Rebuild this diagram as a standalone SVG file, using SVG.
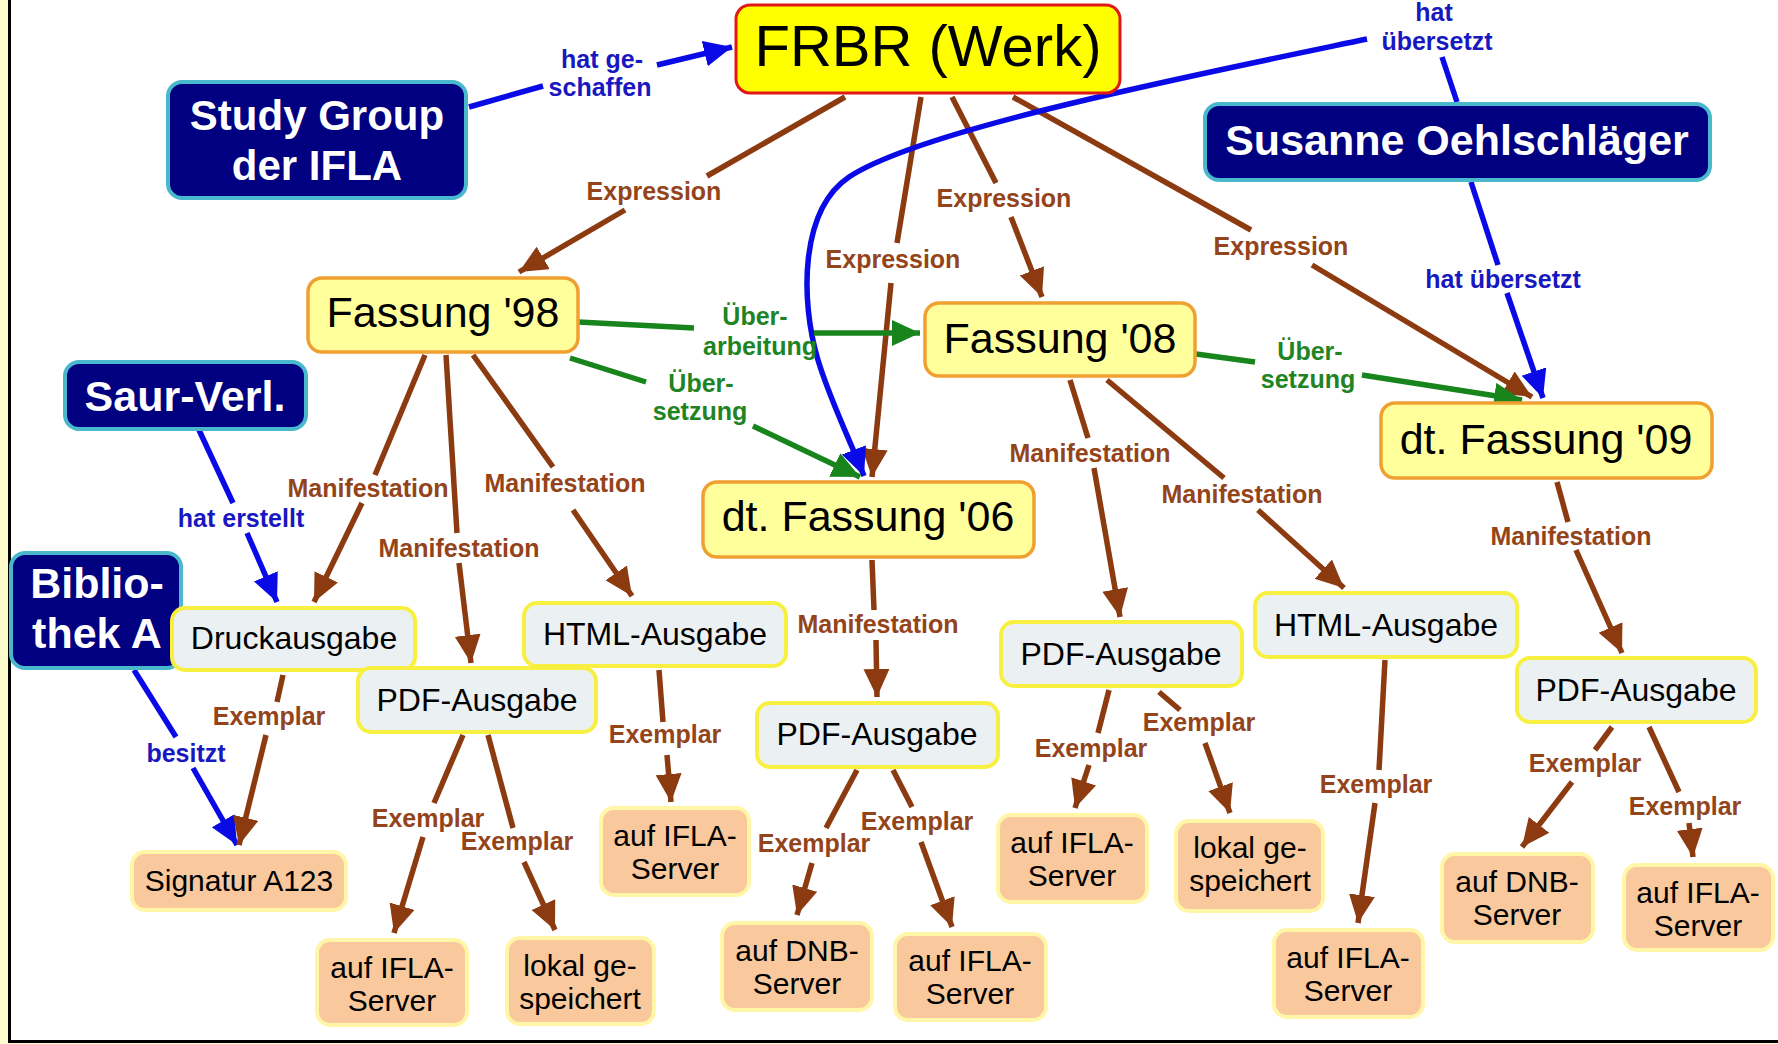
<svg xmlns="http://www.w3.org/2000/svg" width="1778" height="1044" viewBox="0 0 1778 1044">
<style>
.bg{fill:#ffffff}
.who rect{fill:#000080;stroke:#4ab8cc;stroke-width:4}
.who text{fill:#ffffff;font-family:"Liberation Sans",Arial,sans-serif;font-weight:bold;font-size:43px;text-anchor:middle}
.werk rect{fill:#ffff00;stroke:#e01818;stroke-width:3}
.werk text{fill:#000;font-family:"Liberation Sans",Arial,sans-serif;font-size:58px;text-anchor:middle}
.expr rect{fill:#ffff9c;stroke:#f0a030;stroke-width:3.5}
.expr text{fill:#000;font-family:"Liberation Sans",Arial,sans-serif;font-size:43px;text-anchor:middle}
.man rect{fill:#ebf0f3;stroke:#f8f040;stroke-width:4}
.man text{fill:#000;font-family:"Liberation Sans",Arial,sans-serif;font-size:32px;text-anchor:middle}
.item rect{fill:#f9c89c;stroke:#fff6a8;stroke-width:4}
.item text{fill:#000;font-family:"Liberation Sans",Arial,sans-serif;font-size:30px;text-anchor:middle}
.c line,.c path{fill:none;stroke-width:5.5}
.br{stroke:#8c3a10}
.bl{stroke:#0a0ae6}
.gr{stroke:#18841c}
.lab text{font-family:"Liberation Sans",Arial,sans-serif;font-weight:bold;font-size:25px;text-anchor:middle}
.lb{fill:#94441a}
.lbl{fill:#1818c0}
.lg{fill:#1e8424}
</style>
<defs>
<marker id="ab" markerUnits="userSpaceOnUse" markerWidth="30" markerHeight="28" refX="28" refY="13" orient="auto"><path d="M0,0 L28,13 L0,26 z" fill="#8c3a10"/></marker>
<marker id="abl" markerUnits="userSpaceOnUse" markerWidth="30" markerHeight="28" refX="28" refY="13" orient="auto"><path d="M0,0 L28,13 L0,26 z" fill="#0a0ae6"/></marker>
<marker id="ag" markerUnits="userSpaceOnUse" markerWidth="30" markerHeight="28" refX="28" refY="13" orient="auto"><path d="M0,0 L28,13 L0,26 z" fill="#18841c"/></marker>
</defs>
<rect class="bg" x="0" y="0" width="1778" height="1044"/>
<rect x="0" y="0" width="8" height="1044" fill="#fffccc"/>
<rect x="0" y="1043" width="1778" height="1" fill="#fffccc"/>
<rect x="8" y="0" width="3" height="1043" fill="#000"/>
<rect x="8" y="1040" width="1770" height="3" fill="#000"/>

<g id="connectors" class="c">
<line class="bl" x1="469" y1="107" x2="543" y2="86"/>
<line class="bl" x1="657" y1="65" x2="732" y2="47" marker-end="url(#abl)"/>
<line class="br" x1="845" y1="97" x2="707" y2="176"/>
<line class="br" x1="625" y1="210" x2="519" y2="272" marker-end="url(#ab)"/>
<line class="br" x1="921" y1="97" x2="897" y2="243"/>
<line class="br" x1="891" y1="283" x2="872" y2="477" marker-end="url(#ab)"/>
<line class="br" x1="952" y1="97" x2="996" y2="183"/>
<line class="br" x1="1011" y1="217" x2="1042" y2="297" marker-end="url(#ab)"/>
<line class="br" x1="1013" y1="97" x2="1251" y2="230"/>
<line class="br" x1="1312" y1="265" x2="1532" y2="397" marker-end="url(#ab)"/>
<line class="bl" x1="1471" y1="182" x2="1498" y2="265"/>
<line class="bl" x1="1507" y1="293" x2="1543" y2="398" marker-end="url(#abl)"/>
<line class="bl" x1="1457" y1="102" x2="1442" y2="57"/>
<path class="bl" d="M1367,39 C1180,78 920,130 849,177 C800,210 800,300 818,360 C830,400 850,440 864,476" marker-end="url(#abl)"/>
<line class="gr" x1="578" y1="322" x2="694" y2="328"/>
<line class="gr" x1="814" y1="333" x2="920" y2="333" marker-end="url(#ag)"/>
<line class="gr" x1="570" y1="358" x2="646" y2="382"/>
<line class="gr" x1="753" y1="426" x2="860" y2="477" marker-end="url(#ag)"/>
<line class="gr" x1="1196" y1="354" x2="1255" y2="362"/>
<line class="gr" x1="1362" y1="375" x2="1522" y2="400" marker-end="url(#ag)"/>
<line class="br" x1="425" y1="355" x2="375" y2="475"/>
<line class="br" x1="362" y1="503" x2="314" y2="602" marker-end="url(#ab)"/>
<line class="br" x1="446" y1="355" x2="457" y2="533"/>
<line class="br" x1="459" y1="563" x2="471" y2="663" marker-end="url(#ab)"/>
<line class="br" x1="473" y1="355" x2="553" y2="467"/>
<line class="br" x1="573" y1="510" x2="632" y2="596" marker-end="url(#ab)"/>
<line class="bl" x1="199" y1="430" x2="233" y2="503"/>
<line class="bl" x1="247" y1="533" x2="277" y2="602" marker-end="url(#abl)"/>
<line class="bl" x1="134" y1="670" x2="176" y2="737"/>
<line class="bl" x1="193" y1="768" x2="237" y2="845" marker-end="url(#abl)"/>
<line class="br" x1="283" y1="675" x2="277" y2="702"/>
<line class="br" x1="266" y1="735" x2="239" y2="845" marker-end="url(#ab)"/>
<line class="br" x1="463" y1="735" x2="434" y2="803"/>
<line class="br" x1="423" y1="837" x2="394" y2="933" marker-end="url(#ab)"/>
<line class="br" x1="488" y1="735" x2="513" y2="828"/>
<line class="br" x1="524" y1="862" x2="555" y2="930" marker-end="url(#ab)"/>
<line class="br" x1="659" y1="670" x2="663" y2="722"/>
<line class="br" x1="667" y1="755" x2="671" y2="802" marker-end="url(#ab)"/>
<line class="br" x1="872" y1="560" x2="874" y2="610"/>
<line class="br" x1="876" y1="640" x2="877" y2="697" marker-end="url(#ab)"/>
<line class="br" x1="857" y1="770" x2="826" y2="828"/>
<line class="br" x1="812" y1="863" x2="797" y2="915" marker-end="url(#ab)"/>
<line class="br" x1="893" y1="770" x2="912" y2="807"/>
<line class="br" x1="921" y1="842" x2="952" y2="927" marker-end="url(#ab)"/>
<line class="br" x1="1070" y1="380" x2="1088" y2="438"/>
<line class="br" x1="1094" y1="468" x2="1120" y2="617" marker-end="url(#ab)"/>
<line class="br" x1="1107" y1="380" x2="1224" y2="478"/>
<line class="br" x1="1258" y1="510" x2="1344" y2="588" marker-end="url(#ab)"/>
<line class="br" x1="1109" y1="690" x2="1098" y2="733"/>
<line class="br" x1="1089" y1="765" x2="1075" y2="808" marker-end="url(#ab)"/>
<line class="br" x1="1159" y1="692" x2="1180" y2="710"/>
<line class="br" x1="1205" y1="743" x2="1230" y2="813" marker-end="url(#ab)"/>
<line class="br" x1="1385" y1="660" x2="1379" y2="770"/>
<line class="br" x1="1375" y1="803" x2="1358" y2="923" marker-end="url(#ab)"/>
<line class="br" x1="1557" y1="482" x2="1568" y2="522"/>
<line class="br" x1="1576" y1="550" x2="1622" y2="653" marker-end="url(#ab)"/>
<line class="br" x1="1612" y1="727" x2="1595" y2="750"/>
<line class="br" x1="1572" y1="782" x2="1522" y2="847" marker-end="url(#ab)"/>
<line class="br" x1="1649" y1="727" x2="1679" y2="792"/>
<line class="br" x1="1689" y1="823" x2="1693" y2="857" marker-end="url(#ab)"/>
</g>

<g id="labels" class="lab">
<text class="lbl" x="602" y="68">hat ge-</text>
<text class="lbl" x="600" y="96">schaffen</text>
<text class="lbl" x="1434" y="21">hat</text>
<text class="lbl" x="1437" y="50">übersetzt</text>
<text class="lbl" x="1503" y="288">hat übersetzt</text>
<text class="lbl" x="241" y="527">hat erstellt</text>
<text class="lbl" x="186" y="762">besitzt</text>
<text class="lb" x="654" y="200">Expression</text>
<text class="lb" x="893" y="268">Expression</text>
<text class="lb" x="1004" y="207">Expression</text>
<text class="lb" x="1281" y="255">Expression</text>
<text class="lg" x="755" y="325">Über-</text>
<text class="lg" x="760" y="355">arbeitung</text>
<text class="lg" x="701" y="392">Über-</text>
<text class="lg" x="700" y="420">setzung</text>
<text class="lg" x="1310" y="360">Über-</text>
<text class="lg" x="1308" y="388">setzung</text>
<text class="lb" x="368" y="497">Manifestation</text>
<text class="lb" x="459" y="557">Manifestation</text>
<text class="lb" x="565" y="492">Manifestation</text>
<text class="lb" x="878" y="633">Manifestation</text>
<text class="lb" x="1090" y="462">Manifestation</text>
<text class="lb" x="1242" y="503">Manifestation</text>
<text class="lb" x="1571" y="545">Manifestation</text>
<text class="lb" x="269" y="725">Exemplar</text>
<text class="lb" x="428" y="827">Exemplar</text>
<text class="lb" x="517" y="850">Exemplar</text>
<text class="lb" x="665" y="743">Exemplar</text>
<text class="lb" x="814" y="852">Exemplar</text>
<text class="lb" x="917" y="830">Exemplar</text>
<text class="lb" x="1091" y="757">Exemplar</text>
<text class="lb" x="1199" y="731">Exemplar</text>
<text class="lb" x="1376" y="793">Exemplar</text>
<text class="lb" x="1585" y="772">Exemplar</text>
<text class="lb" x="1685" y="815">Exemplar</text>
</g>

<g id="frbr" class="werk"><rect x="736" y="5" width="384" height="88" rx="14"/><text x="928" y="66">FRBR (Werk)</text></g>
<g id="studygroup" class="who"><rect x="168" y="82" width="298" height="116" rx="14"/><text x="317" y="130" style="font-size:42px">Study Group</text><text x="317" y="180" style="font-size:42px">der IFLA</text></g>
<g id="oehlschlaeger" class="who"><rect x="1205" y="104" width="505" height="76" rx="14"/><text x="1457" y="155">Susanne Oehlschläger</text></g>
<g id="saur" class="who"><rect x="65" y="362" width="241" height="67" rx="14"/><text x="185" y="411">Saur-Verl.</text></g>
<g id="bibliothek" class="who"><rect x="11" y="553" width="170" height="115" rx="14"/><text x="97" y="598">Biblio-</text><text x="97" y="648">thek A</text></g>

<g id="fassung98" class="expr"><rect x="308" y="278" width="270" height="74" rx="14"/><text x="443" y="327">Fassung '98</text></g>
<g id="fassung08" class="expr"><rect x="925" y="303" width="270" height="73" rx="14"/><text x="1060" y="353">Fassung '08</text></g>
<g id="fassung06" class="expr"><rect x="703" y="482" width="331" height="75" rx="14"/><text x="868" y="531">dt. Fassung '06</text></g>
<g id="fassung09" class="expr"><rect x="1381" y="403" width="331" height="75" rx="14"/><text x="1546" y="454">dt. Fassung '09</text></g>

<g id="druck98" class="man"><rect x="172" y="608" width="243" height="62" rx="13"/><text x="294" y="649">Druckausgabe</text></g>
<g id="pdf98" class="man"><rect x="358" y="668" width="238" height="64" rx="13"/><text x="477" y="711">PDF-Ausgabe</text></g>
<g id="html98" class="man"><rect x="524" y="603" width="262" height="63" rx="13"/><text x="655" y="645">HTML-Ausgabe</text></g>
<g id="pdf06" class="man"><rect x="757" y="703" width="241" height="64" rx="13"/><text x="877" y="745">PDF-Ausgabe</text></g>
<g id="pdf08" class="man"><rect x="1001" y="622" width="241" height="64" rx="13"/><text x="1121" y="665">PDF-Ausgabe</text></g>
<g id="html08" class="man"><rect x="1255" y="593" width="262" height="64" rx="13"/><text x="1386" y="636">HTML-Ausgabe</text></g>
<g id="pdf09" class="man"><rect x="1517" y="658" width="239" height="64" rx="13"/><text x="1636" y="701">PDF-Ausgabe</text></g>

<g id="signatur" class="item"><rect x="132" y="852" width="214" height="58" rx="13"/><text x="239" y="891">Signatur A123</text></g>
<g id="ifla98pdf" class="item"><rect x="317" y="940" width="150" height="85" rx="13"/><text x="392" y="978">auf IFLA-</text><text x="392" y="1011">Server</text></g>
<g id="lokal98" class="item"><rect x="507" y="938" width="147" height="86" rx="13"/><text x="580" y="976">lokal ge-</text><text x="580" y="1009">speichert</text></g>
<g id="ifla98html" class="item"><rect x="601" y="808" width="148" height="87" rx="13"/><text x="675" y="846">auf IFLA-</text><text x="675" y="879">Server</text></g>
<g id="dnb06" class="item"><rect x="722" y="923" width="150" height="87" rx="13"/><text x="797" y="961">auf DNB-</text><text x="797" y="994">Server</text></g>
<g id="ifla06" class="item"><rect x="895" y="934" width="151" height="86" rx="13"/><text x="970" y="971">auf IFLA-</text><text x="970" y="1004">Server</text></g>
<g id="ifla08pdf" class="item"><rect x="998" y="815" width="149" height="87" rx="13"/><text x="1072" y="853">auf IFLA-</text><text x="1072" y="886">Server</text></g>
<g id="lokal08" class="item"><rect x="1176" y="821" width="147" height="90" rx="13"/><text x="1250" y="858">lokal ge-</text><text x="1250" y="891">speichert</text></g>
<g id="ifla08html" class="item"><rect x="1274" y="930" width="149" height="87" rx="13"/><text x="1348" y="968">auf IFLA-</text><text x="1348" y="1001">Server</text></g>
<g id="dnb09" class="item"><rect x="1442" y="854" width="151" height="88" rx="13"/><text x="1517" y="892">auf DNB-</text><text x="1517" y="925">Server</text></g>
<g id="ifla09" class="item"><rect x="1624" y="865" width="149" height="85" rx="13"/><text x="1698" y="903">auf IFLA-</text><text x="1698" y="936">Server</text></g>
</svg>
